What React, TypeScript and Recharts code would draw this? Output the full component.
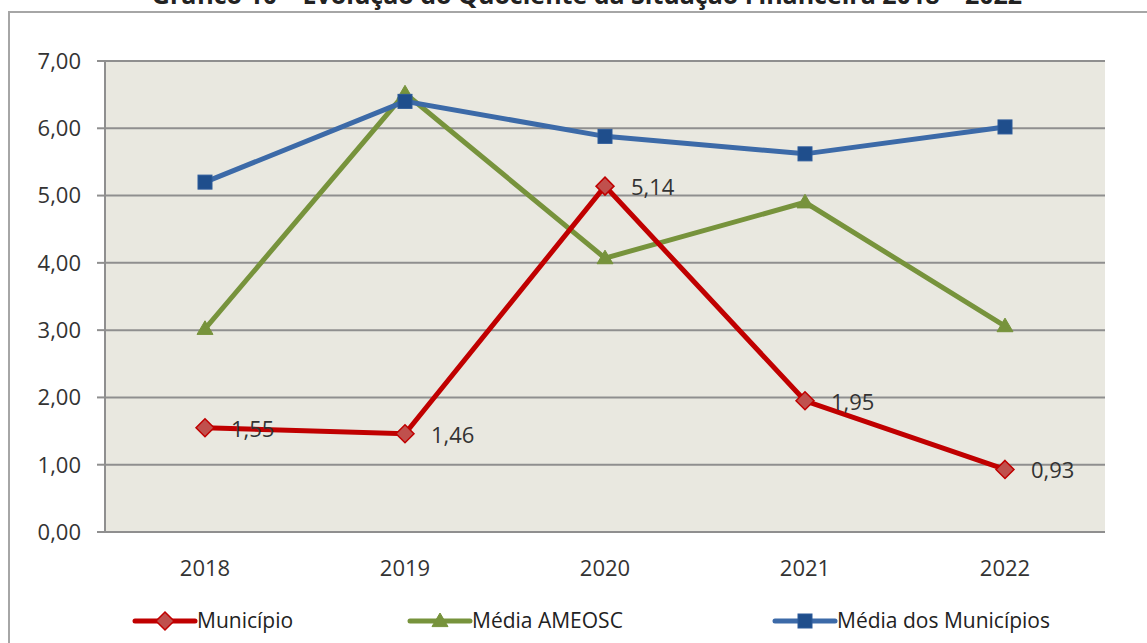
import React from "react";
import { LineChart, Line, XAxis, YAxis, CartesianGrid, LabelList } from "recharts";

const years = ["2018", "2019", "2020", "2021", "2022"];
const municipio = [1.55, 1.46, 5.14, 1.95, 0.93];
const mediaAmeosc = [3.02, 6.52, 4.07, 4.9, 3.06];
const mediaMunicipios = [5.2, 6.4, 5.88, 5.62, 6.02];
const yTicks = [0, 1, 2, 3, 4, 5, 6, 7];
const titleText = "Gráfico 10 – Evolução do Quociente da Situação Financeira 2018 – 2022";

const data = years.map((y, i) => ({
  year: y,
  municipio: municipio[i],
  ameosc: mediaAmeosc[i],
  media: mediaMunicipios[i],
}));

const FONT = "'Open Sans', sans-serif";
const fmt = (v: number) => v.toFixed(2).replace(".", ",");

const Diamond = (props: any) => {
  const { cx, cy } = props;
  if (cx == null || cy == null) return null;
  const r = 9;
  return (
    <path
      d={`M${cx},${cy - r}L${cx + r},${cy}L${cx},${cy + r}L${cx - r},${cy}Z`}
      fill="#c0504d"
      stroke="#c00000"
      strokeWidth={1.5}
    />
  );
};
const Triangle = (props: any) => {
  const { cx, cy } = props;
  if (cx == null || cy == null) return null;
  const r = 8;
  return (
    <path
      d={`M${cx},${cy - r}L${cx + r},${cy + r * 0.7}L${cx - r},${cy + r * 0.7}Z`}
      fill="#77933c"
      stroke="#77933c"
      strokeWidth={1}
    />
  );
};
const Square = (props: any) => {
  const { cx, cy } = props;
  if (cx == null || cy == null) return null;
  const r = 7;
  return <rect x={cx - r} y={cy - r} width={2 * r} height={2 * r} fill="#1f4e8c" stroke="#2c5a9a" strokeWidth={1} />;
};

const DataLabel = (props: any) => {
  const { x, y, value } = props;
  return (
    <text x={x + 26} y={y + 3} fill="#333" fontSize={22} fontFamily={FONT} dominantBaseline="middle" textAnchor="start">
      {fmt(value)}
    </text>
  );
};

const legendItems = [
  { label: "Município", color: "#c00000", shape: "diamond", x: 135 },
  { label: "Média AMEOSC", color: "#77933c", shape: "triangle", x: 410 },
  { label: "Média dos Municípios", color: "#3c6aa8", shape: "square", x: 775 },
];

export default function App() {
  return (
    <div style={{ position: "absolute", left: 0, top: 0, width: 1147, height: 643, overflow: "hidden", background: "#fff" }}>
      <div
        style={{
          position: "absolute",
          left: 8,
          top: 11,
          width: 1160,
          height: 660,
          border: "2px solid #a6a6a6",
          boxSizing: "border-box",
        }}
      />
      <svg style={{ position: "absolute", left: 0, top: 0 }} width={1147} height={20}>
        <text x={587} y={4} textAnchor="middle" fontSize={25} fontWeight="bold" fontFamily={FONT} fill="#222">
          {titleText}
        </text>
      </svg>
      <div style={{ position: "absolute", left: 0, top: 0 }}>
        <LineChart width={1147} height={643} data={data} margin={{ top: 61, right: 42, bottom: 81, left: 0 }}>
          <CartesianGrid vertical={false} fill="#e9e8e0" stroke="#8f8f8f" strokeWidth={2} />
          <XAxis
            dataKey="year"
            padding={{ left: 100, right: 100 }}
            axisLine={{ stroke: "#8f8f8f", strokeWidth: 2 }}
            tickLine={false}
            tick={{ fill: "#333", fontSize: 22, fontFamily: FONT }}
            tickMargin={22}
          />
          <YAxis
            domain={[0, 7]}
            ticks={yTicks}
            width={105}
            tickFormatter={fmt}
            axisLine={{ stroke: "#8f8f8f", strokeWidth: 2 }}
            tickLine={{ stroke: "#8f8f8f", strokeWidth: 2 }}
            tickSize={8}
            tickMargin={16}
            tick={{ fill: "#333", fontSize: 22, fontFamily: FONT }}
          />
          <Line dataKey="ameosc" stroke="#77933c" strokeWidth={5} dot={<Triangle />} activeDot={false} isAnimationActive={false} />
          <Line dataKey="media" stroke="#3c6aa8" strokeWidth={5} dot={<Square />} activeDot={false} isAnimationActive={false} />
          <Line dataKey="municipio" stroke="#c00000" strokeWidth={5} dot={<Diamond />} activeDot={false} isAnimationActive={false}>
            <LabelList dataKey="municipio" content={<DataLabel />} />
          </Line>
        </LineChart>
      </div>
      <svg style={{ position: "absolute", left: 0, top: 600 }} width={1147} height={43}>
        {legendItems.map((it) => (
          <g key={it.label}>
            <line x1={it.x} y1={21} x2={it.x + 60} y2={21} stroke={it.color} strokeWidth={5} strokeLinecap="round" />
            {it.shape === "diamond" && <Diamond cx={it.x + 30} cy={21} />}
            {it.shape === "triangle" && <Triangle cx={it.x + 30} cy={21} />}
            {it.shape === "square" && <Square cx={it.x + 30} cy={21} />}
            <text x={it.x + 62} y={22} dominantBaseline="middle" fontSize={21} fontFamily={FONT} fill="#222">
              {it.label}
            </text>
          </g>
        ))}
      </svg>
    </div>
  );
}
